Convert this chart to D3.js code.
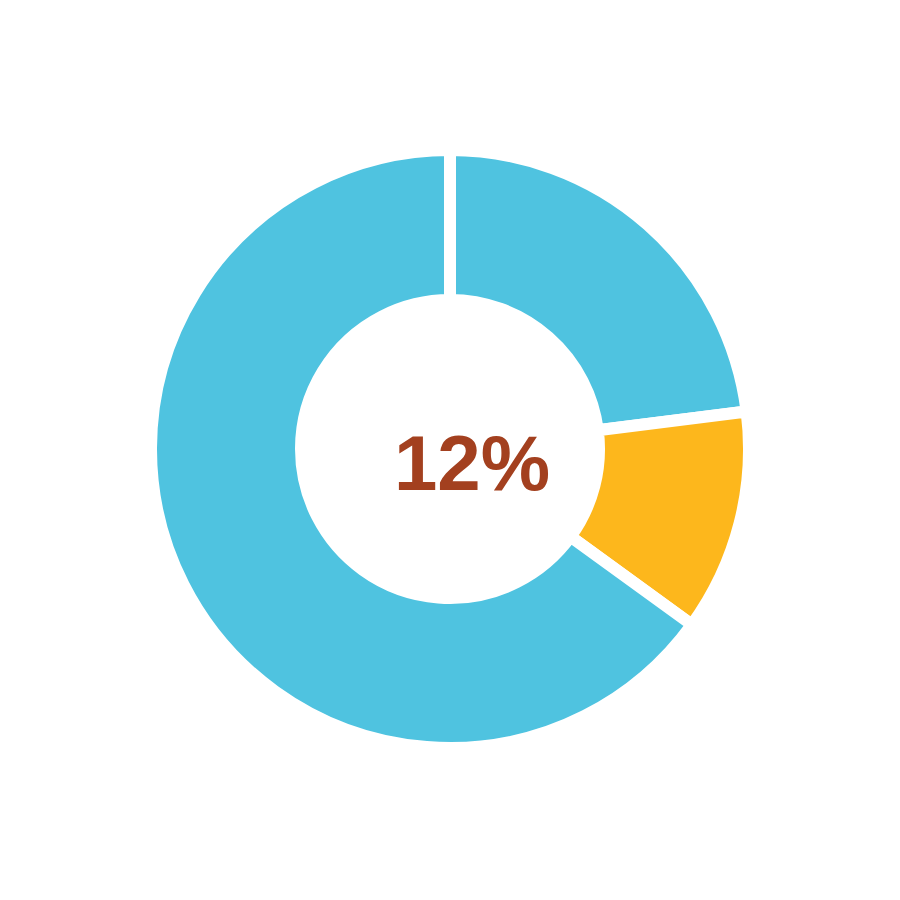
<!DOCTYPE html>
<html><head><meta charset="utf-8">
<script src="https://cdn.jsdelivr.net/npm/d3@7"></script>
<style>html,body{margin:0;padding:0;background:#fff;}</style>
</head><body>
<script>
const categories = ["A", "B", "C"];
const values = [23, 12, 65];
const colors = ["#4FC3E0", "#FDB71C", "#4FC3E0"];
const centerLabel = "12%";

const W = 900, H = 900;
const svg = d3.select("body").append("svg").attr("width", W).attr("height", H);
const g = svg.append("g").attr("transform", "translate(450,449)");
const pie = d3.pie().sort(null).value(d => d.v);
const arcs = pie(categories.map((c, i) => ({c, v: values[i], col: colors[i]})));
const arc = d3.arc().innerRadius(149).outerRadius(299);
g.selectAll("path").data(arcs).join("path")
  .attr("d", arc)
  .attr("fill", d => d.data.col)
  .attr("stroke", "#fff")
  .attr("stroke-width", 12)
  .attr("stroke-linejoin", "miter");
svg.append("text")
  .attr("x", 472).attr("y", 490)
  .attr("text-anchor", "middle")
  .attr("font-family", "Liberation Sans, Arial, sans-serif")
  .attr("font-weight", "bold")
  .attr("font-size", 78)
  .attr("fill", "#A3401F")
  .text(centerLabel);
</script>
</body></html>
